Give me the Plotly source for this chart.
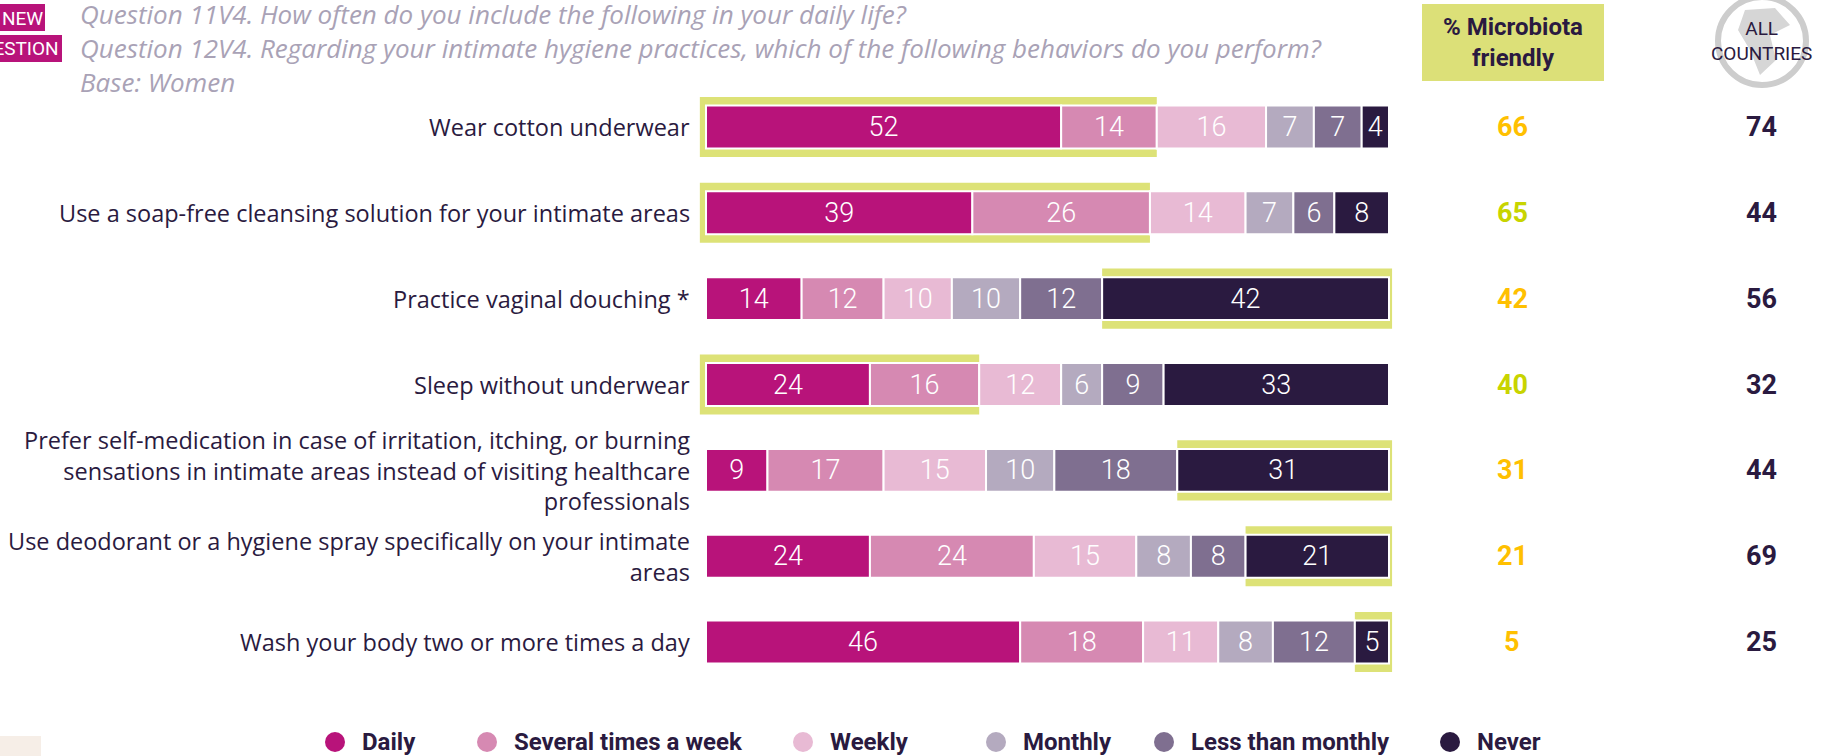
import plotly.graph_objects as go
import numpy as np

# ---------------- data ----------------
behaviors = [
    "Wear cotton underwear",
    "Use a soap-free cleansing solution for your intimate areas",
    "Practice vaginal douching *",
    "Sleep without underwear",
    "Prefer self-medication in case of irritation, itching, or burning<br>sensations in intimate areas instead of visiting healthcare<br>professionals",
    "Use deodorant or a hygiene spray specifically on your intimate<br>areas",
    "Wash your body two or more times a day",
]
frequencies = ["Daily", "Several times a week", "Weekly", "Monthly", "Less than monthly", "Never"]
daily = [52, 39, 14, 24, 9, 24, 46]
several_times_a_week = [14, 26, 12, 16, 17, 24, 18]
weekly = [16, 14, 10, 12, 15, 15, 11]
monthly = [7, 7, 10, 6, 10, 8, 8]
less_than_monthly = [7, 6, 12, 9, 18, 8, 12]
never = [4, 8, 42, 33, 31, 21, 5]
microbiota_friendly = [66, 65, 42, 40, 31, 21, 5]
mf_significant = [False, True, False, True, False, False, False]
all_countries = [74, 44, 56, 32, 44, 69, 25]

questions = [
    "Question 11V4. How often do you include the following in your daily life?",
    "Question 12V4. Regarding your intimate hygiene practices, which of the following behaviors do you perform?",
    "Base: Women",
]

# ---------------- style ----------------
W, H = 1826, 756
COLORS = ["#B8137A", "#D689B2", "#E8BAD4", "#B4AABF", "#7F6F90", "#2A1A40"]
HILITE = "#DDE277"
DARK = "#2A1A40"
ORANGE = "#FFC000"
GREEN = "#C8D400"
GREY_TXT = "#A9A2B6"
FONT = "Roboto"
LBL_FONT = "Open Sans"


def px(x):
    return x / W


def py(y):
    return 1 - y / H


series = [daily, several_times_a_week, weekly, monthly, less_than_monthly, never]
vals = np.array(series, dtype=float)
bases = np.vstack([np.zeros(vals.shape[1]), np.cumsum(vals, axis=0)[:-1]])
idx = list(range(len(behaviors)))

fig = go.Figure()

# highlight behind the microbiota-friendly part
hl_base, hl_len = [], []
for i in idx:
    mf = microbiota_friendly[i]
    if daily[i] + several_times_a_week[i] == mf:
        hl_base.append(-0.9)
        hl_len.append(mf + 0.9)
    else:
        hl_base.append(100 - mf)
        hl_len.append(mf + 0.45)
fig.add_trace(go.Bar(
    orientation="h", y=idx, x=hl_len, base=hl_base, width=0.7,
    marker=dict(color=HILITE, line=dict(width=0)),
    hoverinfo="skip", showlegend=False, cliponaxis=False,
))

for k, name in enumerate(frequencies):
    fig.add_trace(go.Bar(
        orientation="h", y=idx, x=vals[k], base=bases[k], width=0.5, name=name,
        marker=dict(color=COLORS[k], line=dict(color="white", width=2)),
        text=[str(int(v)) for v in vals[k]], textposition="inside",
        insidetextanchor="middle", textangle=0,
        textfont=dict(color="white", size=27, family=FONT, weight=300),
        cliponaxis=False, showlegend=False,
    ))

annotations = []
for i in idx:
    annotations.append(dict(
        x=px(692), xref="paper", y=i, yref="y", text=behaviors[i],
        xanchor="right", yanchor="middle", align="right", showarrow=False,
        font=dict(family=LBL_FONT, size=23.5, color=DARK),
    ))
    annotations.append(dict(
        x=px(1512), xref="paper", y=i, yref="y", text=str(microbiota_friendly[i]),
        xanchor="center", yanchor="middle", showarrow=False,
        font=dict(family=FONT, size=27, color=GREEN if mf_significant[i] else ORANGE, weight="bold"),
    ))
    annotations.append(dict(
        x=px(1761), xref="paper", y=i, yref="y", text=str(all_countries[i]),
        xanchor="center", yanchor="middle", showarrow=False,
        font=dict(family=FONT, size=27, color=DARK, weight="bold"),
    ))

# question header (one multi-line block)
annotations.append(dict(
    x=px(78), xref="paper", y=py(48), yref="paper", text="<br>".join(questions),
    xanchor="left", yanchor="middle", align="left", showarrow=False,
    font=dict(family=LBL_FONT, size=26, color=GREY_TXT, style="italic"),
))

shapes = []
# NEW QUESTION tag
shapes.append(dict(type="rect", xref="paper", yref="paper", x0=px(0), x1=px(45), y0=py(31), y1=py(4),
                   fillcolor="#B8137A", line=dict(width=0), layer="below"))
shapes.append(dict(type="rect", xref="paper", yref="paper", x0=px(0), x1=px(62), y0=py(62), y1=py(35),
                   fillcolor="#B8137A", line=dict(width=0), layer="below"))
annotations.append(dict(x=px(22), xref="paper", y=py(18), yref="paper", text="NEW",
                        xanchor="center", yanchor="middle", showarrow=False,
                        font=dict(family=FONT, size=19, color="white")))
annotations.append(dict(x=px(61), xref="paper", y=py(49), yref="paper", text="QUESTION",
                        xanchor="right", yanchor="middle", showarrow=False,
                        font=dict(family=FONT, size=19, color="white")))

# % Microbiota friendly header
shapes.append(dict(type="rect", xref="paper", yref="paper", x0=px(1422), x1=px(1604), y0=py(81), y1=py(4),
                   fillcolor="#DCE078", line=dict(width=0), layer="below"))
annotations.append(dict(x=px(1513), xref="paper", y=py(42), yref="paper", text="% Microbiota<br>friendly",
                        xanchor="center", yanchor="middle", showarrow=False,
                        font=dict(family=FONT, size=24, color=DARK, weight="bold")))

# globe + ALL COUNTRIES
shapes.append(dict(type="circle", xref="paper", yref="paper", x0=px(1718), x1=px(1806), y0=py(85), y1=py(-3),
                   line=dict(color="#CDCDCD", width=6), fillcolor="rgba(0,0,0,0)", layer="below"))
shapes.append(dict(type="path", xref="paper", yref="paper", layer="below", line=dict(width=0),
                   fillcolor="#D6D6D6",
                   path=f"M {px(1745)} {py(10)} L {px(1775)} {py(8)} L {px(1790)} {py(25)} L {px(1770)} {py(35)} "
                        f"L {px(1776)} {py(60)} L {px(1760)} {py(75)} L {px(1750)} {py(50)} L {px(1738)} {py(30)} Z"))
annotations.append(dict(x=px(1761), xref="paper", y=py(41), yref="paper", text="ALL<br>COUNTRIES",
                        xanchor="center", yanchor="middle", showarrow=False,
                        font=dict(family=FONT, size=19, color=DARK)))

# beige corner
shapes.append(dict(type="rect", xref="paper", yref="paper", x0=px(0), x1=px(41), y0=py(756), y1=py(736),
                   fillcolor="#F6EEE7", line=dict(width=0), layer="below"))

# legend
legend_circle_x = [335, 487, 803, 996, 1164, 1450]
legend_y = 742
r = 10
for k, name in enumerate(frequencies):
    cx = legend_circle_x[k]
    shapes.append(dict(type="circle", xref="paper", yref="paper",
                       x0=px(cx - r), x1=px(cx + r), y0=py(legend_y + r), y1=py(legend_y - r),
                       fillcolor=COLORS[k], line=dict(width=0)))
    annotations.append(dict(x=px(cx + 25), xref="paper", y=py(legend_y), yref="paper", text=name,
                            xanchor="left", yanchor="middle", showarrow=False,
                            font=dict(family=FONT, size=24, color=DARK, weight="bold")))

# x axis: 0 -> 706 px, 100 -> 1389 px, with a little slack each side for the highlight
unit = (1389 - 706) / 100
x_lo, x_hi = -1.5, 101
fig.update_layout(
    width=W, height=H,
    margin=dict(l=0, r=0, t=0, b=0),
    paper_bgcolor="white", plot_bgcolor="rgba(0,0,0,0)",
    barmode="overlay", showlegend=False,
    xaxis=dict(domain=[px(706 + x_lo * unit), px(706 + x_hi * unit)], range=[x_lo, x_hi],
               visible=False, fixedrange=True),
    yaxis=dict(domain=[py(685), py(84)], range=[len(behaviors) - 0.5, -0.5], visible=False, fixedrange=True),
    annotations=annotations, shapes=shapes,
    font=dict(family=FONT),
)

fig.write_html("out.html", config={"displayModeBar": False},
               post_script="document.body.style.margin='0';document.body.style.overflow='hidden';")
